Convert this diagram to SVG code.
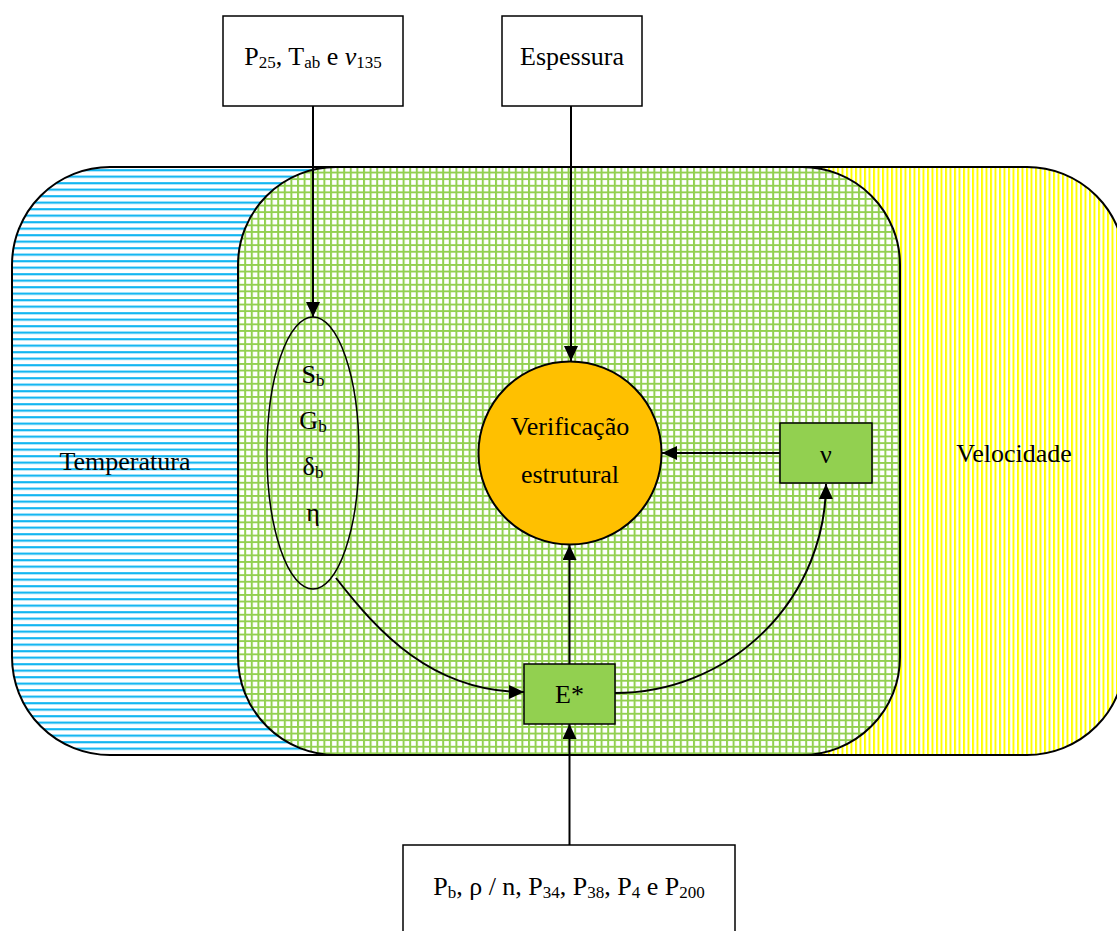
<svg xmlns="http://www.w3.org/2000/svg" width="1117" height="931" viewBox="0 0 1117 931">
  <style>
    text { font-family: "Liberation Serif", "Times New Roman", serif; font-size: 26px; fill: #000; }
    .sub { font-size: 17px; }
    .box { fill: #fff; stroke: #000; stroke-width: 1.5; }
    .gbox { fill: #92d050; stroke: #000; stroke-width: 1.5; }
    .zone { stroke: #000; stroke-width: 2; }
    .conn { fill: none; stroke: #000; stroke-width: 2; marker-end: url(#arrow); }
  </style>
  <defs>
    <pattern id="hBlue" width="8" height="6.5" patternUnits="userSpaceOnUse">
      <rect width="8" height="6.5" fill="#fff"/>
      <line x1="0" y1="1.2" x2="8" y2="1.2" stroke="#00b0f0" stroke-width="2"/>
    </pattern>
    <pattern id="vYellow" width="4.5" height="8" patternUnits="userSpaceOnUse">
      <rect width="4.5" height="8" fill="#fff"/>
      <line x1="1" y1="0" x2="1" y2="8" stroke="#ffff00" stroke-width="2"/>
    </pattern>
    <pattern id="grid" width="6.6" height="6.6" patternUnits="userSpaceOnUse">
      <rect width="6.6" height="6.6" fill="#fff"/>
      <path d="M0 1 H6.6 M1 0 V6.6" stroke="#92d050" stroke-width="2"/>
    </pattern>
    <marker id="arrow" markerWidth="15" markerHeight="14" refX="15" refY="7" orient="auto" markerUnits="userSpaceOnUse">
      <path d="M0,0 L15,7 L0,14 z" fill="#000"/>
    </marker>
  </defs>

  <!-- zones -->
  <g id="zone-temperatura">
    <rect class="zone" x="12" y="167" width="600" height="588" rx="98" ry="98" fill="url(#hBlue)"/>
    <text x="125" y="470" text-anchor="middle">Temperatura</text>
  </g>
  <g id="zone-velocidade">
    <rect class="zone" x="420" y="167" width="705" height="588" rx="98" ry="98" fill="url(#vYellow)"/>
    <text x="1014" y="462" text-anchor="middle">Velocidade</text>
  </g>
  <g id="zone-central">
    <rect class="zone" x="238" y="167" width="662" height="588" rx="98" ry="98" fill="url(#grid)"/>
  </g>

  <!-- input boxes -->
  <g id="box-p25">
    <rect class="box" x="223" y="16" width="180" height="90"/>
    <text x="313" y="65" text-anchor="middle">P<tspan class="sub" dy="3">25</tspan><tspan dy="-3">, T</tspan><tspan class="sub" dy="3">ab</tspan><tspan dy="-3"> e </tspan><tspan font-style="italic">v</tspan><tspan class="sub" dy="3">135</tspan></text>
  </g>
  <g id="box-espessura">
    <rect class="box" x="502" y="16" width="140" height="90"/>
    <text x="572" y="65" text-anchor="middle">Espessura</text>
  </g>
  <g id="box-pb">
    <rect class="box" x="403" y="845" width="332" height="100"/>
    <text x="569" y="895" text-anchor="middle">P<tspan class="sub" dy="3">b</tspan><tspan dy="-3">, ρ / n, P</tspan><tspan class="sub" dy="3">34</tspan><tspan dy="-3">, P</tspan><tspan class="sub" dy="3">38</tspan><tspan dy="-3">, P</tspan><tspan class="sub" dy="3">4</tspan><tspan dy="-3"> e P</tspan><tspan class="sub" dy="3">200</tspan></text>
  </g>

  <!-- binder properties -->
  <g id="ellipse-props">
    <ellipse cx="313" cy="453" rx="46" ry="136" fill="none" stroke="#000" stroke-width="1.5"/>
    <text x="313" y="383" text-anchor="middle">S<tspan class="sub" dy="3">b</tspan></text>
    <text x="313" y="429" text-anchor="middle">G<tspan class="sub" dy="3">b</tspan></text>
    <text x="313" y="475" text-anchor="middle">δ<tspan class="sub" dy="3">b</tspan></text>
    <text x="313" y="521" text-anchor="middle">η</text>
  </g>

  <!-- structural check -->
  <g id="node-verificacao">
    <circle cx="570" cy="453" r="91.5" fill="#ffc000" stroke="#000" stroke-width="2"/>
    <text x="570" y="435" text-anchor="middle">Verificação</text>
    <text x="570" y="483" text-anchor="middle">estrutural</text>
  </g>

  <g id="node-nu">
    <rect class="gbox" x="780" y="423" width="92" height="60"/>
    <text x="826" y="463" text-anchor="middle">ν</text>
  </g>

  <g id="node-estar">
    <rect class="gbox" x="524" y="664" width="91" height="60"/>
    <text x="569.5" y="703" text-anchor="middle">E*</text>
  </g>

  <!-- connectors -->
  <g id="connectors">
    <path class="conn" d="M313 106 V317"/>
    <path class="conn" d="M571 106 V361"/>
    <path class="conn" d="M780 453 H662"/>
    <path class="conn" d="M569.5 664 V545"/>
    <path class="conn" d="M569.5 845 V724"/>
    <path class="conn" d="M336 578 C378 632 432 692 524 692"/>
    <path class="conn" d="M615 693 A211 210 0 0 0 826 484"/>
  </g>
</svg>
